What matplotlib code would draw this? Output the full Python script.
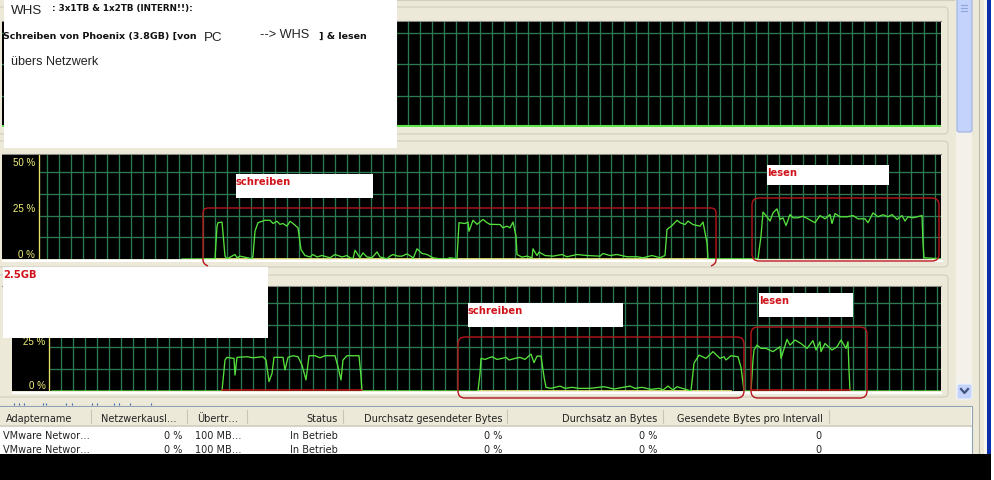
import numpy as np
import matplotlib
matplotlib.use("Agg")
import matplotlib.pyplot as plt
from matplotlib.patches import Rectangle, FancyBboxPatch, PathPatch
from matplotlib.path import Path

W, H = 994, 481

# graph 2 (time in screen samples, % load)
mid_t = [182, 215, 217, 218, 222, 223, 225, 227, 235, 237, 240, 252, 253, 255, 258, 265, 270, 273,
         277, 280, 283, 287, 290, 293, 298, 301, 305, 310, 313, 317, 322, 327, 330, 335, 342, 347,
         350, 353, 355, 360, 363, 367, 372, 377, 380, 387, 390, 393, 398, 402, 407, 412, 413,
         417, 422, 427, 433, 440, 447, 450, 457, 459, 465, 468, 469, 473, 477, 483, 487, 490,
         500, 503, 507, 510, 513, 516, 517, 522, 527, 532, 533, 537, 539, 545, 553, 562, 567, 577,
         587, 600, 603, 610, 617, 627, 637, 643, 652, 660, 665, 667, 672, 677, 680, 685, 688, 693,
         700, 703, 707, 708, 758, 761, 763, 767, 770, 773, 777, 780, 783, 786, 790, 793, 798, 803,
         808, 815, 820, 825, 830, 832, 835, 840, 847, 853, 858, 865, 868, 873, 878, 883, 888, 892,
         897, 902, 905, 908, 913, 922, 923, 924, 941]
mid_v = [0, 0.1, 16.1, 17.8, 18.1, 12.8, 1.4, 0.1, 2.2, 0.6, 1.4, 0.1, 1.4, 13.6, 17.8, 19, 19, 17.4,
         18.5, 17, 17.4, 16.1, 18.5, 17.4, 15.3, 4.6, 1.7, 1, 2.2, 1, 1.7, 1, 0.6, 2.2, 1, 1.7,
         0.6, 0.1, 4.3, 0.6, 3, 1, 0.6, 3.5, 1, 0.1, 1.4, 2.2, 1.4, 1.4, 2.5, 1, 0.1,
         5, 2.7, 2.2, 0.6, 0.1, 0.1, 0.6, 0.1, 17.8, 17.4, 18.1, 13.6, 19, 17, 19.4, 17.8, 17,
         16.9, 15.3, 16.1, 15.3, 18.1, 11.2, 2.2, 0.9, 1.4, 0.6, 5, 1.7, 3.4, 1.7, 1.4, 2.2, 1.1, 2.2,
         1.7, 1.4, 2.7, 1.7, 2.2, 1.1, 1.1, 0.6, 1.7, 0.6, 1.7, 14.5, 16.4, 19, 17.8, 16.9, 18.6, 16.9,
         16.1, 18.1, 7.9, 0.1, 0.1, 11.2, 23, 20.7, 18.6, 22.6, 24.6, 19.4, 20.2, 16.4, 21.8, 20.2, 20.2, 21,
         19.7, 17.8, 21.3, 19.7, 21.8, 17.4, 22.3, 20.7, 20.7, 21.3, 19.7, 19.7, 17.8, 22.6, 20.7, 21.7, 20.7, 21.8,
         19.4, 21.3, 18.6, 20.7, 20.2, 21.3, 7.9, 0.6, 0.1]
mid_yellow_t = [203, 707]
mid_yellow_v = [0, 0]
mid_idle_t = [708, 941]
mid_idle_v = [0, 0]

# graph 3
low_t = [52, 222, 225, 227, 234, 235, 237, 247, 253, 263, 266, 269, 272, 274, 283, 285, 288, 293, 298,
         302, 306, 309, 315, 320, 325, 335, 338, 341, 343, 347, 359, 361, 362,
         478, 480, 481, 485, 492, 497, 502, 506, 509, 515, 520, 525, 531, 534, 537, 541, 544, 546,
         551, 560, 565, 572, 579, 590, 604, 614, 630, 635, 642, 651, 659, 663, 668, 673, 677, 691,
         694, 699, 706, 713, 720, 724, 726, 731, 738, 741, 744, 751,
         753, 754, 757, 761, 766, 773, 780, 781, 787, 790, 795, 801, 807, 813, 816, 820, 821, 825,
         832, 837, 841, 846, 848, 849, 850, 941]
low_v = [0, 0, 15.2, 16.5, 16, 7.8, 16.5, 16.8, 16.3, 16.8, 15.2, 4.6, 8.6, 16.5, 16.5, 10.3, 16.5, 17.3, 16.8,
         12.7, 5.4, 17.3, 17.3, 16.3, 17.3, 17.3, 11.9, 5.4, 15.2, 17.3, 17.3, 7, 0.1,
         0, 8.6, 16, 15.5, 16.8, 15.5, 16, 16.5, 15.2, 16, 16.5, 15.5, 18.1, 13.9, 17.1, 17.1, 7, 1.8,
         1.3, 2.4, 1.3, 1.8, 1.3, 1.3, 2.1, 1, 2.4, 1.3, 1.8, 0.8, 1.3, 0.5, 2.4, 0.5, 2.1, 0,
         13.6, 17.6, 16, 19.3, 16, 16.8, 15.2, 17.3, 16.8, 11.6, 0, 0,
         15.2, 20.1, 22.5, 20.9, 20.9, 19.3, 21.7, 16, 25.3, 22.5, 25, 23.3, 20.9, 24.7, 20.1, 24.2, 19.3, 23.3,
         20.1, 21.7, 25, 20.9, 24.2, 10.3, 0, 0]
low_yellow_t = [478, 731]
low_yellow_v = [0, 0]
low_red_a_t = [222, 362]
low_red_b_t = [751, 850]
low_red_v = [0, 0]

# graph 1
top_t = [2, 941]
top_v = [0, 0]

# table
headers_left = [("Adaptername", 6), ("Netzwerkausl…", 101), ("Übertr…", 197)]
headers_right = [("Status", 338), ("Durchsatz gesendeter Bytes", 503), ("Durchsatz an Bytes", 657),
                 ("Gesendete Bytes pro Intervall", 823)]
header_seps = [91, 187, 247, 343, 507, 663, 829]
row_name = "VMware Networ…"
row_speed = "100 MB…"
row_state = "In Betrieb"
row_ys = [436, 450]
link_bits = [14, 19, 24, 43, 46, 66, 72, 92, 97, 114, 119, 130, 151]

BEIGE = "#ECE9D8"
FRAME = "#D0CEBF"
GRID = "#2C7A50"
GREEN = "#55E03C"
YELLOW = "#F4F47A"
RED = "#B5161C"
LOAD_FONT = ["Liberation Sans", "DejaVu Sans"]
BOLD_FONT = ["DejaVu Sans"]
TABLE_FONT = ["DejaVu Sans"]
TABLE_SIZE = 7.0

plt.rcParams["font.family"] = LOAD_FONT

fig = plt.figure(figsize=(W / 100, H / 100), dpi=100, facecolor="white")


def px_axes(l, t, r, b, z=1):
    return fig.add_axes([l / W, 1 - b / H, (r - l) / W, (b - t) / H], zorder=z)


# window chrome behind the graphs
bg = fig.add_axes([0, 0, 1, 1], zorder=0)
bg.set_xlim(0, W)
bg.set_ylim(H, 0)
bg.axis("off")
bg.add_patch(Rectangle((0, 0), 991, 455, fc=BEIGE, ec="none"))
for y0, y1 in [(8, 135), (142, 268), (276, 398)]:
    bg.add_patch(FancyBboxPatch((-6, y0), 954, y1 - y0, boxstyle="round,pad=0,rounding_size=4",
                                fc=BEIGE, ec=FRAME, lw=0.8))
bg.plot([380, 954], [1, 1], color=FRAME, lw=0.8)
bg.add_patch(Rectangle((2, 261), 941, 2, fc="white", ec="none"))
bg.add_patch(Rectangle((12, 393), 930, 2, fc="white", ec="none"))
for y in [22, 155, 287]:
    bg.plot([2, 941], [y, y], color="#8C8C84", lw=0.8)
bg.vlines(link_bits, 404, 406, color="#3A66B0", lw=0.8)

# scrollbar and window edge
bg.add_patch(Rectangle((956, 0), 16, 400, fc="#F3F1EA", ec="none"))
bg.add_patch(FancyBboxPatch((957, -4), 15, 137, boxstyle="round,pad=0,rounding_size=2",
                            fc="#C3D3FB", ec="#9DB3DE", lw=0.8))
for y in [6, 9, 12]:
    bg.plot([961, 967], [y, y], color="#8FA7DC", lw=0.8)
bg.add_patch(FancyBboxPatch((957, 385), 15, 15, boxstyle="round,pad=0,rounding_size=2",
                            fc="#C3D3FB", ec="#EEF2FC", lw=0.8))
bg.plot([961, 964.5, 968], [390, 394, 390], color="#41557F", lw=1.6)
bg.plot([979, 979], [0, 455], color="#BDBBAE", lw=0.8)
bg.add_patch(Rectangle((987, 0), 4, 455, fc="#0A2FA8", ec="none"))
bg.add_patch(Rectangle((984, 0), 3, 455, fc="#F7F6F0", ec="none"))

# table
bg.add_patch(Rectangle((-2, 407), 974, 60, fc="white", ec="#8FA2B5", lw=0.8))
bg.add_patch(Rectangle((-1, 408), 972, 19, fc=BEIGE, ec="none"))
bg.plot([0, 971], [427, 427], color="#D6D3C3", lw=1.4)
for sep in header_seps:
    bg.plot([sep, sep], [411, 424], color="#C9C6B5", lw=0.8)
for label, x in headers_left:
    bg.text(x, 419, label, family=TABLE_FONT, fontsize=TABLE_SIZE, color="#222222", ha="left", va="center")
for label, x in headers_right:
    bg.text(x, 419, label, family=TABLE_FONT, fontsize=TABLE_SIZE, color="#222222", ha="right", va="center")
for y in row_ys:
    bg.text(3, y, row_name, family=TABLE_FONT, fontsize=TABLE_SIZE, color="#222222", ha="left", va="center")
    bg.text(182, y, "0 %", family=TABLE_FONT, fontsize=TABLE_SIZE, color="#222222", ha="right", va="center")
    bg.text(195, y, row_speed, family=TABLE_FONT, fontsize=TABLE_SIZE, color="#222222", ha="left", va="center")
    bg.text(338, y, row_state, family=TABLE_FONT, fontsize=TABLE_SIZE, color="#222222", ha="right", va="center")
    bg.text(502, y, "0 %", family=TABLE_FONT, fontsize=TABLE_SIZE, color="#222222", ha="right", va="center")
    bg.text(657, y, "0 %", family=TABLE_FONT, fontsize=TABLE_SIZE, color="#222222", ha="right", va="center")
    bg.text(821, y, "0", family=TABLE_FONT, fontsize=TABLE_SIZE, color="#222222", ha="right", va="center")
bg.add_patch(Rectangle((0, 455), 991, 26, fc="black", ec="none", zorder=5))


def graph(l, t, r, b, axis_x, first_grid, y_top, y_step, labels):
    ax = px_axes(l, t, r, b)
    ax.set_facecolor("black")
    ax.set_xlim(l, r)
    ax.set_ylim(0, y_top)
    ax.set_xticks(np.arange(first_grid, r, 12.0))
    ax.set_yticks(np.arange(y_step, y_top, y_step))
    ax.grid(True, color=GRID, lw=0.95)
    ax.set_axisbelow(True)
    ax.tick_params(length=0, labelbottom=False, labelleft=False)
    for s in ax.spines.values():
        s.set_visible(False)
    if axis_x is not None:
        ax.axvspan(l, axis_x, color="black", zorder=1)
        ax.axvline(axis_x, color="#E8E46A", lw=0.95, zorder=1.5)
    for value, text in labels:
        ax.text(axis_x - 4, value, text, color=YELLOW, fontsize=7, ha="right", va="center", zorder=3)
    return ax


ax1 = graph(2, 23, 941, 128, None, 48, 51, 15.3, [])
ax1.plot(top_t, np.array(top_v) + 0.3, color="#5CE64C", lw=1.5, zorder=2)

ax2 = graph(2, 156, 941, 260, 39, 47.3, 51, 10.65, [(47.5, "50 %"), (25, "25 %"), (2.5, "0 %")])
ax2.plot(mid_yellow_t, np.array(mid_yellow_v) + 0.2, color=YELLOW, lw=1.2, zorder=2)
ax2.plot(mid_t, mid_v, color=GREEN, lw=0.95, zorder=3)
ax2.plot(mid_idle_t, np.array(mid_idle_v) + 0.2, color=GREEN, lw=1.0, zorder=2)

ax3 = graph(12, 288, 941, 392, 49.5, 61.5, 51, 10.8, [(24.5, "25 %"), (2.7, "0 %")])
ax3.plot(low_yellow_t, np.array(low_yellow_v) + 0.2, color=YELLOW, lw=1.2, zorder=2)
ax3.plot(low_t, low_v, color=GREEN, lw=0.95, zorder=3)
ax3.plot(low_red_a_t, np.array(low_red_v) + 0.3, color="#C01818", lw=1.1, zorder=4)
ax3.plot(low_red_b_t, np.array(low_red_v) + 0.3, color="#C01818", lw=1.1, zorder=4)

# pasted over annotations
top = fig.add_axes([0, 0, 1, 1], zorder=10)
top.set_xlim(0, W)
top.set_ylim(H, 0)
top.axis("off")
top.patch.set_alpha(0)

for x0, y0, x1, y1 in [(4, 1, 397, 149), (236, 175, 373, 199), (767, 166, 889, 186),
                       (3, 268, 268, 339), (468, 304, 623, 328), (759, 294, 853, 318)]:
    top.add_patch(Rectangle((x0, y0), x1 - x0, y1 - y0, fc="white", ec="none"))

# red frames
verts = [(208, 267), (203, 265), (203, 261), (203, 214), (203, 209), (208, 209), (711, 209),
         (716, 209), (716, 214), (716, 261), (716, 265), (711, 267)]
codes = [Path.MOVETO, Path.CURVE3, Path.CURVE3, Path.LINETO, Path.CURVE3, Path.CURVE3, Path.LINETO,
         Path.CURVE3, Path.CURVE3, Path.LINETO, Path.CURVE3, Path.CURVE3]
top.add_patch(PathPatch(Path(verts, codes), fc="none", ec=RED, lw=1.0))
for x0, y0, x1, y1 in [(752, 199, 939, 262), (458, 338, 744, 399), (751, 328, 867, 399)]:
    top.add_patch(FancyBboxPatch((x0, y0), x1 - x0, y1 - y0, boxstyle="round,pad=0,rounding_size=7",
                                 fc="none", ec=RED, lw=1.0))

top.text(11, 11, "WHS", fontsize=9.6, color="#222222", va="center")
top.text(52, 8, ": 3x1TB & 1x2TB (INTERN!!):", family=BOLD_FONT, weight="bold", fontsize=6.3, color="#111111", va="center")
top.text(3, 36, "Schreiben von Phoenix (3.8GB) [von", family=BOLD_FONT, weight="bold", fontsize=6.8, color="#111111", va="center")
top.text(204, 38, "PC", fontsize=9.6, color="#222222", va="center")
top.text(260, 35, "--> WHS", fontsize=9.2, color="#222222", va="center")
top.text(319, 36, "] & lesen", family=BOLD_FONT, weight="bold", fontsize=6.8, color="#111111", va="center")
top.text(11, 62, "übers Netzwerk", fontsize=9.0, color="#222222", va="center")
for x, y, label in [(236, 182, "schreiben"), (767, 173, "lesen"), (3, 275, "2.5GB"),
                    (468, 311, "schreiben"), (759, 301, "lesen")]:
    top.text(x, y, label, family=BOLD_FONT, weight="bold", fontsize=7.2, color="#D0141C", va="center")

fig.savefig("out.png", dpi=100)
